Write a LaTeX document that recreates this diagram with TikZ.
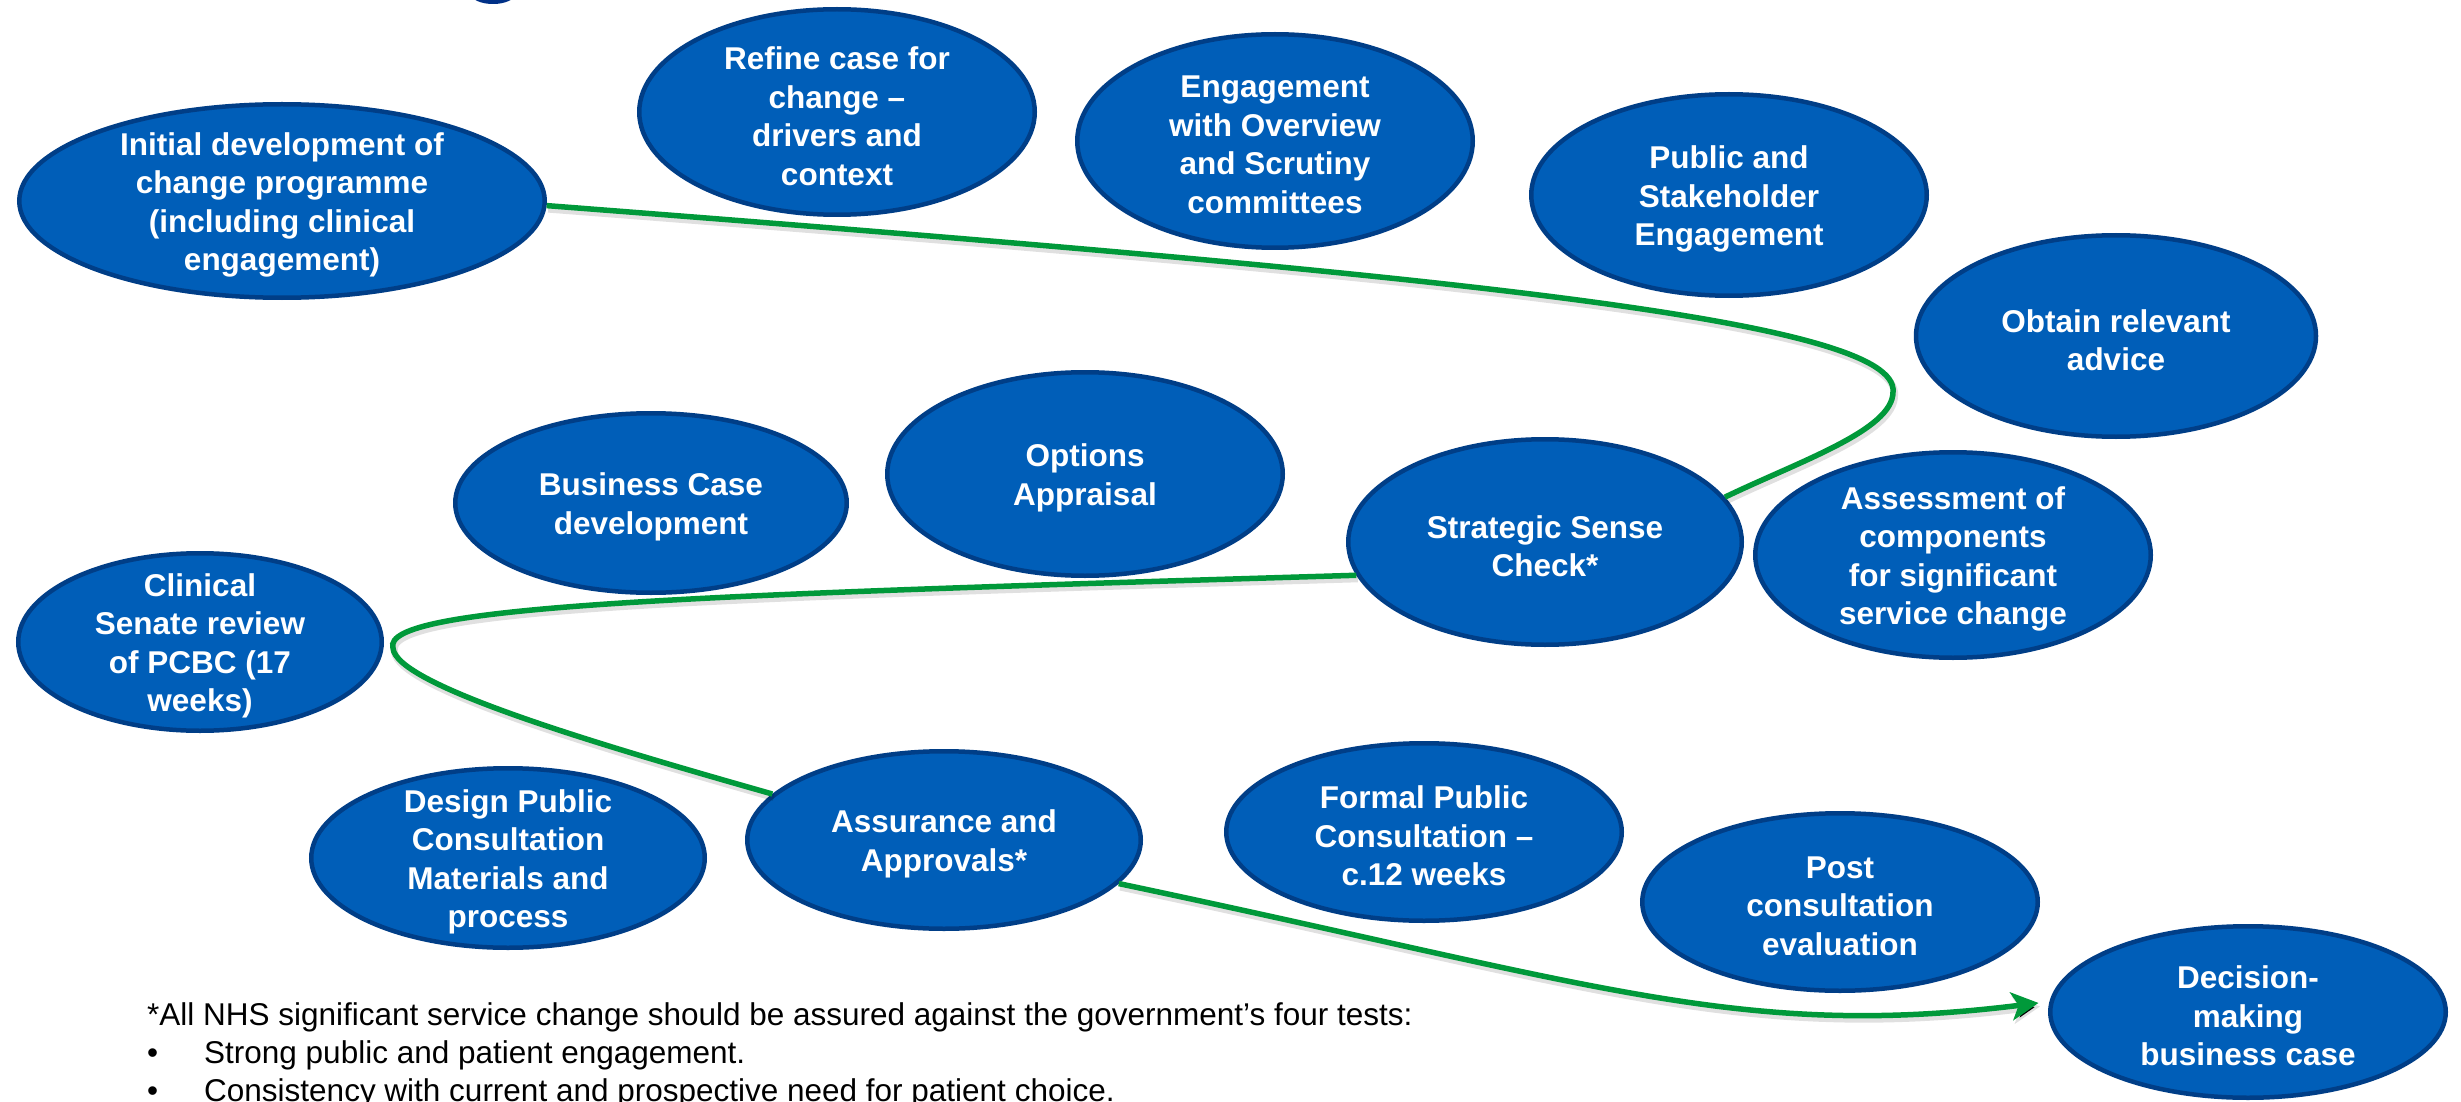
\documentclass[tikz,border=0pt]{standalone}
\usepackage{fontspec}
\setmainfont{Liberation Sans}
\usetikzlibrary{arrows.meta,shapes.geometric}
\definecolor{bubblefill}{RGB}{0,94,184}
\definecolor{bubbleedge}{RGB}{0,62,135}
\definecolor{flowgreen}{RGB}{0,153,58}
\definecolor{titlenavy}{RGB}{0,48,135}
\begin{document}
\begin{tikzpicture}[x=1pt,y=-1pt,
  bubble/.style={ellipse, draw=bubbleedge, fill=bubblefill, line width=4.5pt, inner sep=0pt},
  lbl/.style={text=white, align=center, inner sep=0pt, yshift=-4pt, font=\bfseries\fontsize{31.5}{38.5}\selectfont},
  notetext/.style={inner sep=0pt, anchor=base west, font=\fontsize{31.5}{38.5}\selectfont},
  flow/.style={draw=flowgreen, line width=5.5pt,
    preaction={draw=black, draw opacity=0.12, line width=7pt, transform canvas={shift={(1.5,3.5)}}}}
]
\useasboundingbox (0,0) rectangle (2461,1102);
\clip (0,0) rectangle (2461,1102);
\fill[white] (0,0) rectangle (2461,1102);

% fragment of cut-off title
\fill[titlenavy] (493,-6) ellipse [x radius=22, y radius=10];

% bubbles
\node[bubble, minimum width=525.5pt, minimum height=193.5pt] (init) at (282,201) {};
\node[bubble, minimum width=395.5pt, minimum height=205.5pt] (refine) at (837,112) {};
\node[bubble, minimum width=395.5pt, minimum height=213.5pt] (engage) at (1275,141) {};
\node[bubble, minimum width=395.5pt, minimum height=201.5pt] (public) at (1729,195) {};
\node[bubble, minimum width=400pt, minimum height=201.5pt] (advice) at (2116,336) {};
\node[bubble, minimum width=391.5pt, minimum height=179.5pt] (busc) at (651,503) {};
\node[bubble, minimum width=395.5pt, minimum height=203.5pt] (options) at (1085,474) {};
\node[bubble, minimum width=393.5pt, minimum height=205.5pt] (ssc) at (1545,542) {};
\node[bubble, minimum width=395.5pt, minimum height=205.5pt] (assess) at (1953,555) {};
\node[bubble, minimum width=363.5pt, minimum height=177.5pt] (senate) at (200,642) {};
\node[bubble, minimum width=393.5pt, minimum height=179.5pt] (design) at (508,858) {};
\node[bubble, minimum width=393.5pt, minimum height=177.5pt] (assure) at (944,840) {};
\node[bubble, minimum width=395.5pt, minimum height=177.5pt] (formal) at (1424,832) {};
\node[bubble, minimum width=395.5pt, minimum height=177.5pt] (post) at (1840,902) {};
\node[bubble, minimum width=395.5pt, minimum height=171.5pt] (decide) at (2248,1012) {};

% labels
\node[lbl] (init-t) at (init) {Initial development of\\change programme\\(including clinical\\engagement)};
\node[lbl] (refine-t) at (refine) {Refine case for\\change –\\drivers and\\context};
\node[lbl] (engage-t) at (engage) {Engagement\\with Overview\\and Scrutiny\\committees};
\node[lbl] (public-t) at (public) {Public and\\Stakeholder\\Engagement};
\node[lbl] (advice-t) at (advice) {Obtain relevant\\advice};
\node[lbl] (busc-t) at (busc) {Business Case\\development};
\node[lbl] (options-t) at (options) {Options\\Appraisal};
\node[lbl] (ssc-t) at (ssc) {Strategic Sense\\Check*};
\node[lbl] (assess-t) at (assess) {Assessment of\\components\\for significant\\service change};
\node[lbl] (senate-t) at (senate) {Clinical\\Senate review\\of PCBC (17\\weeks)};
\node[lbl] (design-t) at (design) {Design Public\\Consultation\\Materials and\\process};
\node[lbl] (assure-t) at (assure) {Assurance and\\Approvals*};
\node[lbl] (formal-t) at (formal) {Formal Public\\Consultation –\\c.12 weeks};
\node[lbl] (post-t) at (post) {Post\\consultation\\evaluation};
\node[lbl] (decide-t) at (decide) {Decision-\\making\\business case};

% connectors
\draw[flow] (init.-1) .. controls (1450,275) and (1900,320) .. (1893,392)
  .. controls (1893,430) and (1800,461) .. (ssc.14);
\draw[flow] (ssc.190.6) .. controls (700,595) and (380,605) .. (393,648)
  .. controls (395,685) and (600,745) .. (assure.165);
\draw[flow, -{Stealth[length=27pt,width=28pt,inset=7pt]}, shorten >=11pt]
  (assure.-14) .. controls (1600,985) and (1740,1040) .. (decide.177);

% footnote
\node[notetext] (fn) at (147,1025) {*All NHS significant service change should be assured against the government’s four tests:};
\node[notetext] (b1) at (147,1063) {•};
\node[notetext] (t1) at (204,1063) {Strong public and patient engagement.};
\node[notetext] (b2) at (147,1101) {•};
\node[notetext] (t2) at (204,1101) {Consistency with current and prospective need for patient choice.};
\end{tikzpicture}
\end{document}
